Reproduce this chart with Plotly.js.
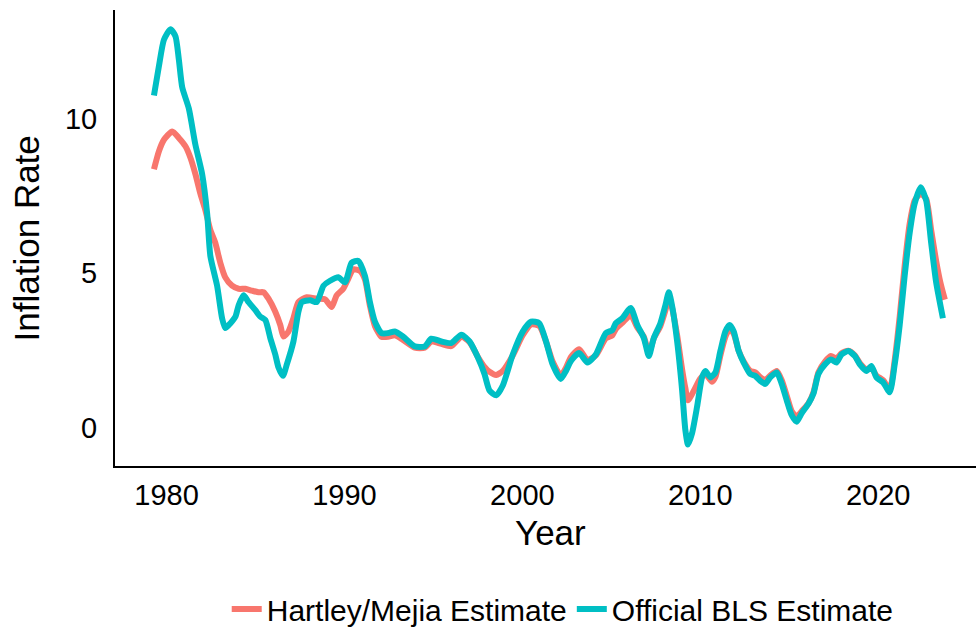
<!DOCTYPE html>
<html>
<head>
<meta charset="utf-8">
<script src="https://cdn.plot.ly/plotly-3.0.1.min.js"></script>
<style>
  html, body { margin: 0; padding: 0; background: #fff; }
  #chart { width: 976px; height: 635px; }
</style>
</head>
<body>
<div id="chart"></div>
<script>
// Official BLS estimate (decimal year, rate in %)
const blsYears = [
  1979.29, 1979.57, 1979.85, 1980.22, 1980.5, 1980.69, 1980.88, 1981.25, 1981.62, 1982.0,
  1982.28, 1982.46, 1982.84, 1983.12, 1983.3, 1983.59, 1983.87, 1984.05, 1984.33, 1984.61,
  1984.99, 1985.27, 1985.55, 1985.83, 1986.11, 1986.29, 1986.54, 1986.76, 1987.13, 1987.41,
  1987.6, 1988.07, 1988.44, 1988.82, 1989.19, 1989.66, 1990.03, 1990.4, 1990.78, 1991.15,
  1991.43, 1991.71, 1992.08, 1992.45, 1992.83, 1993.29, 1993.95, 1994.51, 1994.88, 1995.45,
  1996.0, 1996.57, 1997.03, 1997.5, 1997.87, 1998.15, 1998.53, 1998.9, 1999.46, 2000.02,
  2000.49, 2000.95, 2001.33, 2001.7, 2002.16, 2002.45, 2002.73, 2003.19, 2003.66, 2004.13,
  2004.69, 2005.06, 2005.25, 2005.62, 2006.09, 2006.46, 2006.83, 2007.11, 2007.39, 2007.76,
  2008.04, 2008.23, 2008.41, 2008.7, 2008.98, 2009.16, 2009.31, 2009.54, 2009.82, 2010.1,
  2010.29, 2010.57, 2010.85, 2011.13, 2011.41, 2011.65, 2011.88, 2012.16, 2012.44, 2012.81,
  2013.09, 2013.37, 2013.65, 2013.93, 2014.3, 2014.58, 2014.86, 2015.14, 2015.42, 2015.7,
  2016.08, 2016.36, 2016.64, 2017.01, 2017.35, 2017.66, 2017.94, 2018.32, 2018.69, 2018.97,
  2019.34, 2019.62, 2019.9, 2020.28, 2020.65, 2020.93, 2021.21, 2021.49, 2021.77, 2022.05,
  2022.39, 2022.7, 2022.98, 2023.26, 2023.64
];
const blsRate = [
  10.74, 11.69, 12.54, 12.88, 12.65, 11.9, 11.0, 10.32, 9.15, 8.2,
  6.93, 5.56, 4.6, 3.55, 3.23, 3.39, 3.6, 3.97, 4.29, 4.07,
  3.81, 3.6, 3.49, 2.91, 2.38, 1.96, 1.69, 2.06, 2.8, 3.76,
  4.07, 4.13, 4.07, 4.6, 4.76, 4.87, 4.71, 5.34, 5.4, 4.92,
  4.07, 3.44, 3.07, 3.07, 3.12, 2.96, 2.64, 2.64, 2.89, 2.8,
  2.75, 3.02, 2.8, 2.28, 1.75, 1.22, 1.06, 1.38, 2.38, 3.12,
  3.44, 3.39, 2.8, 2.06, 1.59, 1.85, 2.17, 2.43, 2.12, 2.38,
  3.07, 3.17, 3.39, 3.55, 3.88, 3.33, 2.91, 2.33, 2.91, 3.39,
  3.97, 4.39, 3.97, 2.8, 1.22, -0.05, -0.53, -0.16, 0.69, 1.64,
  1.85, 1.64, 1.8, 2.49, 3.12, 3.33, 3.12, 2.49, 2.12, 1.75,
  1.69, 1.53, 1.43, 1.64, 1.8, 1.43, 0.9, 0.42, 0.21, 0.48,
  0.79, 1.11, 1.75, 2.06, 2.22, 2.12, 2.38, 2.49, 2.33, 2.06,
  1.85, 2.01, 1.64, 1.48, 1.16, 2.06, 3.33, 4.92, 6.3, 7.25,
  7.78, 7.35, 5.98, 4.71, 3.55
];

// Hartley/Mejia estimate (decimal year, rate in %)
const hmYears = [
  1979.29, 1979.57, 1979.85, 1980.32, 1980.69, 1981.06, 1981.34, 1981.62, 1981.9, 1982.18,
  1982.46, 1982.74, 1983.02, 1983.3, 1983.68, 1984.05, 1984.43, 1984.8, 1985.17, 1985.45,
  1985.73, 1986.11, 1986.39, 1986.57, 1986.85, 1987.13, 1987.41, 1987.88, 1988.44, 1988.91,
  1989.28, 1989.56, 1989.93, 1990.21, 1990.49, 1990.87, 1991.15, 1991.43, 1991.71, 1992.08,
  1992.45, 1992.83, 1993.29, 1993.95, 1994.51, 1994.88, 1995.45, 1996.0, 1996.57, 1997.03,
  1997.5, 1997.87, 1998.15, 1998.53, 1998.9, 1999.46, 2000.02, 2000.49, 2000.95, 2001.33,
  2001.7, 2002.16, 2002.45, 2002.73, 2003.19, 2003.66, 2004.13, 2004.69, 2005.06, 2005.25,
  2005.62, 2006.09, 2006.46, 2006.83, 2007.11, 2007.39, 2007.76, 2008.04, 2008.23, 2008.41,
  2008.7, 2008.98, 2009.16, 2009.31, 2009.63, 2010.0, 2010.29, 2010.66, 2010.85, 2011.13,
  2011.41, 2011.65, 2011.88, 2012.16, 2012.44, 2012.81, 2013.09, 2013.37, 2013.65, 2013.93,
  2014.3, 2014.58, 2014.86, 2015.14, 2015.42, 2015.7, 2016.08, 2016.36, 2016.64, 2017.01,
  2017.35, 2017.66, 2017.94, 2018.32, 2018.69, 2018.97, 2019.34, 2019.62, 2019.9, 2020.28,
  2020.65, 2020.93, 2021.21, 2021.49, 2021.77, 2022.05, 2022.39, 2022.7, 2022.98, 2023.26,
  2023.5, 2023.75
];
const hmRate = [
  8.36, 8.94, 9.31, 9.58, 9.37, 9.1, 8.73, 8.2, 7.57, 7.04,
  6.4, 5.98, 5.34, 4.87, 4.6, 4.5, 4.5, 4.44, 4.39, 4.39,
  4.18, 3.76, 3.33, 2.96, 3.12, 3.55, 4.07, 4.23, 4.18, 4.16,
  3.91, 4.29, 4.5, 4.82, 5.13, 5.08, 4.8, 3.95, 3.3, 2.95,
  2.95, 3.0, 2.85, 2.6, 2.6, 2.8, 2.72, 2.65, 2.95, 2.78,
  2.3, 1.98, 1.82, 1.72, 1.85, 2.35, 3.0, 3.35, 3.3, 2.8,
  2.15, 1.7, 1.95, 2.3, 2.55, 2.2, 2.35, 2.9, 3.0, 3.2,
  3.4, 3.65, 3.25, 2.95, 2.45, 2.9, 3.3, 3.8, 4.2, 3.9,
  3.0, 1.9, 1.3, 0.9, 1.2, 1.6, 1.75, 1.5, 1.65, 2.35,
  2.95, 3.2, 3.05, 2.5, 2.15, 1.85, 1.8, 1.65, 1.55, 1.7,
  1.85, 1.55, 1.05, 0.55, 0.37, 0.55, 0.8, 1.15, 1.8, 2.15,
  2.33, 2.25, 2.42, 2.5, 2.35, 2.1, 1.9, 1.95, 1.7, 1.55,
  1.25, 2.2, 3.6, 5.25, 6.6, 7.35, 7.57, 7.4, 6.4, 5.4,
  4.7, 4.15
];

const xTicks = [1980, 1990, 2000, 2010, 2020];
const yTicks = [0, 5, 10];

const FONT = 'Liberation Sans, Arial, Helvetica, sans-serif';

function makeTrace(x, y, name, color) {
  return {
    x: x,
    y: y,
    type: 'scatter',
    mode: 'lines',
    name: name,
    line: { color: color, width: 6, shape: 'spline', smoothing: 0.6 },
    hoverinfo: 'x+y+name'
  };
}

const traces = [
  makeTrace(hmYears, hmRate, 'Hartley/Mejia Estimate', '#F8766D'),
  makeTrace(blsYears, blsRate, 'Official BLS Estimate', '#00BFC4')
];

const layout = {
  width: 976,
  height: 635,
  margin: { l: 115, r: 0, t: 10, b: 162 },
  paper_bgcolor: '#ffffff',
  plot_bgcolor: '#ffffff',
  font: { family: FONT, color: '#000000' },
  showlegend: true,
  xaxis: {
    range: [1977.1, 2025.5],
    tickvals: xTicks,
    ticktext: xTicks.map(String),
    tickfont: { size: 29, color: '#000' },
    ticks: '',
    ticklabelstandoff: 2,
    showgrid: false,
    zeroline: false,
    showline: true,
    linecolor: '#000',
    linewidth: 2,
    automargin: false
  },
  yaxis: {
    range: [-1.22, 13.5],
    tickvals: yTicks,
    ticktext: yTicks.map(String),
    tickfont: { size: 29, color: '#000' },
    ticks: '',
    ticklabelstandoff: 10,
    showgrid: false,
    zeroline: false,
    showline: true,
    linecolor: '#000',
    linewidth: 2,
    automargin: false
  },
  annotations: [
    {
      text: 'Year', xref: 'paper', yref: 'paper',
      x: 0.506, y: -0.145, xanchor: 'center', yanchor: 'middle',
      showarrow: false, font: { size: 35, color: '#000' }
    },
    {
      text: 'Inflation Rate', xref: 'paper', yref: 'paper',
      x: -0.1034, y: 0.499, xanchor: 'center', yanchor: 'middle',
      textangle: -90, showarrow: false, font: { size: 35, color: '#000' }
    }
  ],
  legend: {
    orientation: 'h',
    x: 0.52,
    xanchor: 'center',
    y: -0.315,
    yanchor: 'middle',
    font: { size: 30, color: '#000' },
    bgcolor: 'rgba(0,0,0,0)',
    itemwidth: 30
  }
};

Plotly.newPlot('chart', traces, layout, { displayModeBar: false, staticPlot: true });
</script>
</body>
</html>
